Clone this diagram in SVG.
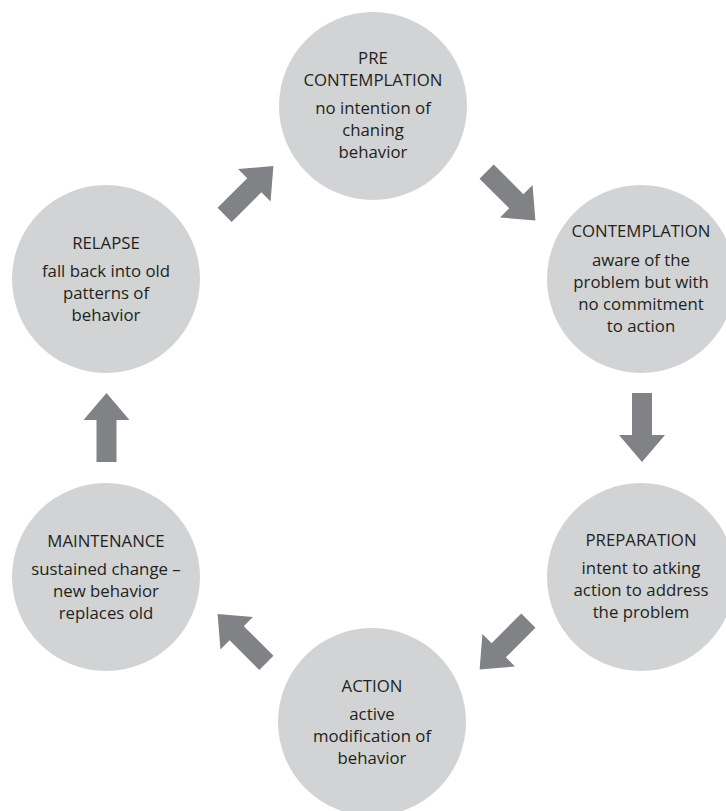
<svg xmlns="http://www.w3.org/2000/svg" width="726" height="811" viewBox="0 0 726 811">
  <defs>
    <style>
      .stage circle { fill: #d1d3d4; }
      .stage text { font-family: "Open Sans", "Noto Sans", "Liberation Sans", sans-serif; font-size: 16.8px; fill: #231f20; text-anchor: middle; }
      .connectors use { fill: #808285; }
    </style>
    <!-- block arrow pointing +x, centred on its midpoint, 69 long -->
    <path id="arrow" d="M -34.5,-10 L 7.5,-10 L 7.5,-23 L 34.5,0 L 7.5,23 L 7.5,10 L -34.5,10 Z"/>
  </defs>
  <rect width="726" height="811" fill="#ffffff"/>

  <g id="precontemplation" class="stage">
    <circle cx="373" cy="106" r="94"/>
    <text x="373" y="64">PRE</text>
    <text x="373" y="86">CONTEMPLATION</text>
    <text x="373" y="114">no intention of</text>
    <text x="373" y="136">chaning</text>
    <text x="373" y="158">behavior</text>
  </g>

  <g id="contemplation" class="stage">
    <circle cx="641" cy="279" r="94"/>
    <text x="641" y="237">CONTEMPLATION</text>
    <text x="641" y="266">aware of the</text>
    <text x="641" y="288">problem but with</text>
    <text x="641" y="310">no commitment</text>
    <text x="641" y="332">to action</text>
  </g>

  <g id="preparation" class="stage">
    <circle cx="641" cy="577" r="94"/>
    <text x="641" y="546">PREPARATION</text>
    <text x="641" y="574">intent to atking</text>
    <text x="641" y="596">action to address</text>
    <text x="641" y="618">the problem</text>
  </g>

  <g id="action" class="stage">
    <circle cx="372" cy="722" r="94"/>
    <text x="372" y="692">ACTION</text>
    <text x="372" y="720">active</text>
    <text x="372" y="742">modification of</text>
    <text x="372" y="764">behavior</text>
  </g>

  <g id="maintenance" class="stage">
    <circle cx="106" cy="577" r="94"/>
    <text x="106" y="547">MAINTENANCE</text>
    <text x="106" y="575">sustained change –</text>
    <text x="106" y="597">new behavior</text>
    <text x="106" y="619">replaces old</text>
  </g>

  <g id="relapse" class="stage">
    <circle cx="106" cy="279" r="94"/>
    <text x="106" y="249">RELAPSE</text>
    <text x="106" y="277">fall back into old</text>
    <text x="106" y="299">patterns of</text>
    <text x="106" y="321">behavior</text>
  </g>

  <g id="connectors" class="connectors">
    <use href="#arrow" transform="translate(511,196) rotate(45)"/>
    <use href="#arrow" transform="translate(642,427.5) rotate(90)"/>
    <use href="#arrow" transform="translate(504,645) rotate(135)"/>
    <use href="#arrow" transform="translate(242,638.5) rotate(-135)"/>
    <use href="#arrow" transform="translate(106.5,427.5) rotate(-90)"/>
    <use href="#arrow" transform="translate(249,190.5) rotate(-45)"/>
  </g>
</svg>
